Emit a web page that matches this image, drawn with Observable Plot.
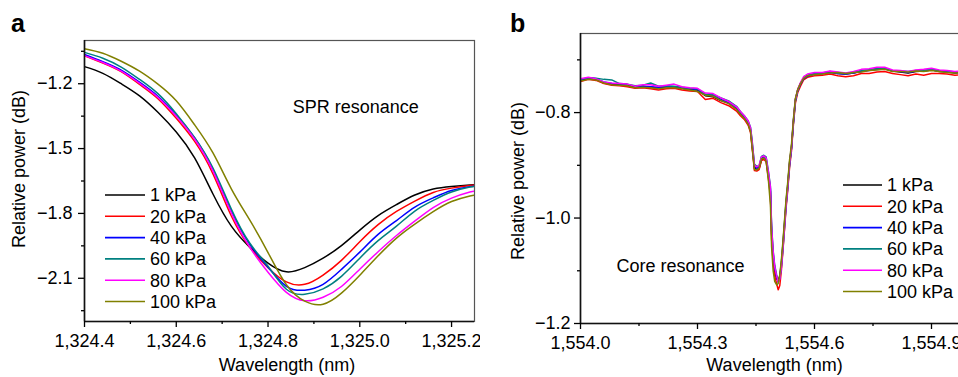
<!DOCTYPE html>
<html><head><meta charset="utf-8">
<script src="https://cdn.jsdelivr.net/npm/d3@7"></script>
<script src="https://cdn.jsdelivr.net/npm/@observablehq/plot@0.6"></script>
<style>
html,body{margin:0;padding:0;background:#fff;overflow:hidden;}
#wrap{position:relative;width:958px;height:377px;overflow:hidden;background:#fff;}
#wrap svg{position:absolute;top:0;}
</style></head><body><div id="wrap"></div>
<script>
// ---------- shared ----------
const series = ["1 kPa","20 kPa","40 kPa","60 kPa","80 kPa","100 kPa"];
const colors = ["#000000","#ff0000","#0000ff","#008080","#ff00ff","#808000"];

// ---------- panel a : SPR resonance ----------
const wavelengthA = [1324.40,1324.44,1324.48,1324.52,1324.56,1324.60,1324.64,1324.68,1324.72,1324.76,1324.80,1324.84,1324.88,1324.92,1324.96,1325.00,1325.04,1325.08,1325.12,1325.16,1325.20,1325.24,1325.25];
const sprA1   = [-1.121,-1.152,-1.200,-1.256,-1.332,-1.423,-1.543,-1.710,-1.859,-1.956,-2.030,-2.070,-2.051,-2.007,-1.949,-1.877,-1.810,-1.759,-1.715,-1.687,-1.675,-1.668,-1.667];
const sprA20  = [-1.070,-1.104,-1.144,-1.203,-1.269,-1.360,-1.467,-1.617,-1.812,-1.956,-2.051,-2.117,-2.128,-2.085,-2.017,-1.931,-1.852,-1.791,-1.743,-1.703,-1.683,-1.671,-1.669];
const sprA40  = [-1.065,-1.098,-1.137,-1.193,-1.258,-1.346,-1.450,-1.597,-1.789,-1.942,-2.049,-2.137,-2.155,-2.128,-2.059,-1.979,-1.897,-1.833,-1.771,-1.728,-1.694,-1.676,-1.674];
const sprA60  = [-1.055,-1.082,-1.123,-1.180,-1.246,-1.339,-1.450,-1.590,-1.780,-1.937,-2.044,-2.151,-2.174,-2.149,-2.091,-2.007,-1.926,-1.859,-1.789,-1.740,-1.701,-1.678,-1.676];
const sprA80  = [-1.070,-1.102,-1.142,-1.198,-1.263,-1.351,-1.457,-1.604,-1.798,-1.956,-2.072,-2.165,-2.204,-2.188,-2.138,-2.058,-1.977,-1.902,-1.835,-1.773,-1.729,-1.701,-1.698];
const sprA100 = [-1.038,-1.059,-1.096,-1.142,-1.202,-1.279,-1.390,-1.520,-1.686,-1.830,-1.981,-2.130,-2.206,-2.220,-2.169,-2.086,-1.996,-1.914,-1.849,-1.792,-1.745,-1.719,-1.716];
const xDomainA = [1324.4, 1325.25];
const yDomainA = [-2.3, -1.0];
const xTicksA = [1324.4, 1324.6, 1324.8, 1325.0, 1325.2];
const xMinorA = [1324.5, 1324.7, 1324.9, 1325.1];
const yTicksA = [-1.2, -1.5, -1.8, -2.1];
const yMinorA = [-1.05, -1.35, -1.65, -1.95, -2.25];
const noteA = [{x: 1324.854, y: -1.307, text: "SPR resonance"}];

// ---------- panel b : core resonance ----------
const wavelengthB = [1554.00,1554.02,1554.04,1554.06,1554.08,1554.10,1554.12,1554.14,1554.16,1554.18,1554.20,1554.22,1554.24,1554.26,1554.28,1554.30,1554.32,1554.34,1554.36,1554.38,1554.40,
  1554.41,1554.42,1554.43,1554.436,1554.44,1554.446,1554.452,1554.458,1554.464,1554.470,1554.476,1554.482,
  1554.487,1554.490,1554.494,1554.498,1554.503,1554.507,1554.511,1554.515,1554.519,1554.523,1554.527,1554.531,1554.536,1554.541,1554.546,1554.551,1554.557,1554.564,1554.572,1554.582,
  1554.60,1554.62,1554.64,1554.66,1554.68,1554.70,1554.72,1554.74,1554.76,1554.78,1554.80,1554.82,1554.84,1554.86,1554.88,1554.90,1554.92,1554.94,1554.96,1554.98,1555.00];
const coreB1 = [-0.739,-0.735,-0.737,-0.744,-0.746,-0.747,-0.748,-0.752,-0.751,-0.752,-0.754,-0.752,-0.752,-0.754,-0.756,-0.757,-0.768,-0.770,-0.777,-0.782,-0.793,
  -0.802,-0.810,-0.821,-0.834,-0.862,-0.906,-0.908,-0.906,-0.889,-0.887,-0.890,-0.921,
  -0.950,-1.030,-1.075,-1.100,-1.115,-1.118,-1.110,-1.085,-1.050,-1.010,-0.970,-0.940,-0.895,-0.865,-0.815,-0.775,-0.757,-0.745,-0.735,-0.730,
  -0.727,-0.726,-0.723,-0.726,-0.727,-0.725,-0.721,-0.719,-0.717,-0.716,-0.721,-0.723,-0.725,-0.722,-0.721,-0.719,-0.722,-0.723,-0.725,-0.724,-0.724];
const coreB20 = [-0.741,-0.737,-0.739,-0.745,-0.748,-0.749,-0.751,-0.754,-0.753,-0.755,-0.757,-0.755,-0.754,-0.757,-0.759,-0.760,-0.775,-0.773,-0.781,-0.787,-0.797,
  -0.806,-0.813,-0.824,-0.838,-0.866,-0.910,-0.911,-0.908,-0.891,-0.889,-0.893,-0.926,
  -0.958,-1.040,-1.085,-1.110,-1.125,-1.136,-1.128,-1.100,-1.062,-1.022,-0.982,-0.950,-0.905,-0.872,-0.822,-0.782,-0.762,-0.750,-0.738,-0.733,
  -0.730,-0.729,-0.727,-0.730,-0.732,-0.730,-0.726,-0.726,-0.723,-0.722,-0.726,-0.728,-0.730,-0.727,-0.729,-0.726,-0.726,-0.727,-0.729,-0.728,-0.728];
const coreB40 = [-0.738,-0.734,-0.736,-0.742,-0.745,-0.746,-0.747,-0.751,-0.750,-0.751,-0.752,-0.751,-0.751,-0.753,-0.755,-0.756,-0.766,-0.768,-0.775,-0.781,-0.791,
  -0.800,-0.808,-0.819,-0.832,-0.858,-0.903,-0.905,-0.903,-0.886,-0.885,-0.888,-0.918,
  -0.945,-1.022,-1.068,-1.095,-1.112,-1.122,-1.113,-1.090,-1.055,-1.015,-0.975,-0.944,-0.898,-0.868,-0.818,-0.777,-0.758,-0.746,-0.736,-0.731,
  -0.727,-0.726,-0.724,-0.726,-0.727,-0.725,-0.722,-0.720,-0.718,-0.717,-0.721,-0.722,-0.724,-0.721,-0.720,-0.719,-0.721,-0.722,-0.724,-0.723,-0.723];
const coreB60 = [-0.737,-0.734,-0.735,-0.737,-0.738,-0.745,-0.746,-0.749,-0.748,-0.744,-0.750,-0.749,-0.750,-0.752,-0.754,-0.755,-0.765,-0.766,-0.772,-0.778,-0.788,
  -0.798,-0.806,-0.816,-0.828,-0.852,-0.898,-0.902,-0.901,-0.883,-0.881,-0.884,-0.912,
  -0.940,-1.015,-1.062,-1.090,-1.108,-1.120,-1.114,-1.094,-1.060,-1.020,-0.978,-0.946,-0.900,-0.868,-0.818,-0.778,-0.758,-0.745,-0.734,-0.729,
  -0.726,-0.725,-0.722,-0.725,-0.726,-0.724,-0.720,-0.719,-0.717,-0.716,-0.720,-0.721,-0.722,-0.720,-0.720,-0.718,-0.720,-0.721,-0.723,-0.722,-0.722];
const coreB80 = [-0.736,-0.733,-0.736,-0.742,-0.744,-0.745,-0.746,-0.750,-0.747,-0.747,-0.750,-0.748,-0.746,-0.751,-0.753,-0.754,-0.763,-0.764,-0.772,-0.779,-0.789,
  -0.798,-0.806,-0.816,-0.829,-0.855,-0.900,-0.903,-0.900,-0.884,-0.882,-0.886,-0.914,
  -0.942,-1.018,-1.064,-1.092,-1.110,-1.121,-1.116,-1.094,-1.058,-1.018,-0.976,-0.944,-0.897,-0.866,-0.815,-0.775,-0.756,-0.743,-0.732,-0.727,
  -0.724,-0.724,-0.721,-0.723,-0.725,-0.722,-0.718,-0.717,-0.714,-0.714,-0.719,-0.720,-0.722,-0.719,-0.718,-0.716,-0.719,-0.720,-0.722,-0.721,-0.721];
const coreB100 = [-0.740,-0.737,-0.738,-0.744,-0.747,-0.748,-0.749,-0.753,-0.752,-0.753,-0.755,-0.753,-0.753,-0.755,-0.757,-0.760,-0.767,-0.769,-0.777,-0.783,-0.794,
  -0.803,-0.811,-0.822,-0.836,-0.864,-0.908,-0.909,-0.905,-0.888,-0.886,-0.892,-0.930,
  -0.975,-1.055,-1.100,-1.120,-1.127,-1.124,-1.108,-1.080,-1.045,-1.005,-0.965,-0.935,-0.890,-0.860,-0.812,-0.773,-0.756,-0.745,-0.735,-0.730,
  -0.728,-0.727,-0.725,-0.724,-0.726,-0.724,-0.723,-0.720,-0.719,-0.718,-0.722,-0.722,-0.723,-0.721,-0.722,-0.720,-0.722,-0.724,-0.725,-0.724,-0.724];
const xDomainB = [1554.0, 1555.0];
const yDomainB = [-1.2, -0.65];
const xTicksB = [1554.0, 1554.3, 1554.6, 1554.9];
const xMinorB = [1554.15, 1554.45, 1554.75];
const yTicksB = [-0.8, -1.0, -1.2];
const yMinorB = [-0.7, -0.9, -1.1];
const noteB = [{x: 1554.092, y: -1.092, text: "Core resonance"}];

// ---------- build ----------
const FONT = "'Liberation Sans', Arial, Helvetica, sans-serif";
function tidy(xs, ys) {
  const out = [];
  ys.forEach((arr, i) => arr.forEach((v, j) => out.push({x: xs[j], y: v, s: series[i]})));
  return out;
}
const dataA = tidy(wavelengthA, [sprA1, sprA20, sprA40, sprA60, sprA80, sprA100]);
const dataB = tidy(wavelengthB, [coreB1, coreB20, coreB40, coreB60, coreB80, coreB100]);
const fmtX = d3.format(",.1f");
const fmtY = d3.format(".1f");

function makePanel(cfg) {
  return Plot.plot({
    width: cfg.width, height: 377,
    marginLeft: cfg.ml, marginRight: cfg.mr, marginTop: cfg.mt, marginBottom: cfg.mb,
    style: {fontSize: "18px", fontFamily: FONT, color: "#000", background: "transparent", overflow: cfg.overflow},
    x: {domain: cfg.xd, label: null},
    y: {domain: cfg.yd, label: null},
    color: {domain: series, range: colors},
    marks: [
      Plot.frame({stroke: "#555", strokeWidth: 1.2}),
      Plot.line(cfg.data, {x: "x", y: "y", z: "s", stroke: "s", strokeWidth: 1.5, curve: cfg.curve, clip: true}),
      Plot.ruleX([cfg.xd[0]], {stroke: "#111", strokeWidth: 1.6}),
      Plot.ruleY([cfg.yd[0]], {stroke: "#111", strokeWidth: 1.6}),
      Plot.axisX(cfg.xt, {tickSize: 6, tickPadding: 7, tickFormat: fmtX, label: null, strokeWidth: 1.3}),
      Plot.axisX(cfg.xm, {tickSize: 3, tickFormat: () => "", label: null, strokeWidth: 1.3}),
      Plot.axisY(cfg.yt, {tickSize: 6, tickPadding: cfg.ypad, tickFormat: fmtY, label: null, strokeWidth: 1.3}),
      Plot.axisY(cfg.ym, {tickSize: 3, tickFormat: () => "", label: null, strokeWidth: 1.3}),
      Plot.text(cfg.note, {x: "x", y: "y", text: "text", textAnchor: "start", lineAnchor: "middle", fontSize: 18, fill: "#000"})
    ]
  });
}

function decorate(svg, d) {
  const s = d3.select(svg);
  s.append("text").attr("x", d.letterX).attr("y", 31.5).attr("text-anchor", "start")
    .attr("font-family", FONT).attr("font-size", 25).attr("font-weight", "bold").attr("fill", "#000").text(d.letter);
  s.append("text").attr("transform", `translate(${d.yTitleX},${d.yTitleY}) rotate(-90)`)
    .attr("text-anchor", "middle").attr("dy", "0.35em")
    .attr("font-family", FONT).attr("font-size", 18).attr("fill", "#000").text("Relative power (dB)");
  s.append("text").attr("x", d.xTitleX).attr("y", 371)
    .attr("text-anchor", "middle")
    .attr("font-family", FONT).attr("font-size", 18).attr("fill", "#000").text("Wavelength (nm)");
  const g = s.append("g").attr("text-anchor", "start");
  series.forEach((name, i) => {
    const y = d.legY + i * 21.3;
    g.append("line").attr("x1", d.legX1).attr("x2", d.legX2).attr("y1", y).attr("y2", y)
      .attr("stroke", colors[i]).attr("stroke-width", 1.6);
    g.append("text").attr("x", d.legX2 + 5).attr("y", y).attr("dy", "0.35em").attr("text-anchor", "start")
      .attr("font-family", FONT).attr("font-size", 18).attr("fill", "#000").text(name);
  });
}

const wrap = document.getElementById("wrap");

const svgA = makePanel({width: 480, ml: 84, mr: 6, mt: 40, mb: 56, xd: xDomainA, yd: yDomainA,
  xt: xTicksA, xm: xMinorA, yt: yTicksA, ym: yMinorA, ypad: 6, data: dataA, curve: "natural", note: noteA, overflow: "hidden"});
svgA.style.left = "0px";
decorate(svgA, {letter: "a", letterX: 11, yTitleX: 19, yTitleY: 169, xTitleX: 287, legX1: 105, legX2: 145, legY: 195});
wrap.appendChild(svgA);

const svgB = makePanel({width: 500, ml: 100, mr: 10, mt: 33, mb: 54, xd: xDomainB, yd: yDomainB,
  xt: xTicksB, xm: xMinorB, yt: yTicksB, ym: yMinorB, ypad: 4, data: dataB, curve: "linear", note: noteB, overflow: "visible"});
svgB.style.left = "480px";
decorate(svgB, {letter: "b", letterX: 30, yTitleX: 38, yTitleY: 181, xTitleX: 294.5, legX1: 363, legX2: 402, legY: 185});
wrap.appendChild(svgB);
</script>
</body></html>
